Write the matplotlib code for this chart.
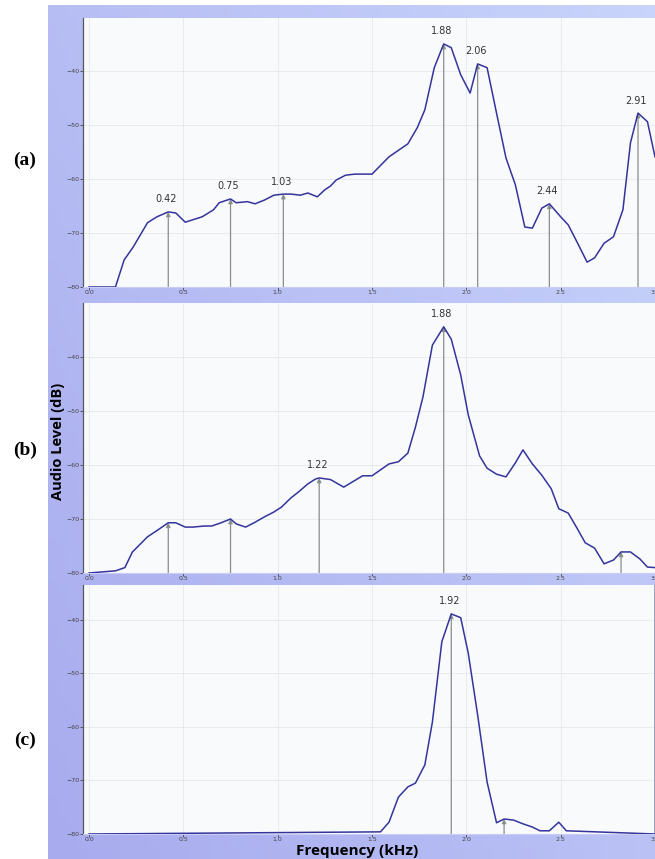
import numpy as np
import matplotlib.pyplot as plt

# Spectrum (a)
freq_a = [0.0, 0.14, 0.186, 0.234, 0.31, 0.36, 0.42, 0.46, 0.51, 0.60, 0.66, 0.69, 0.75,
          0.78, 0.84, 0.88, 0.93, 0.98, 1.03, 1.07, 1.12, 1.16, 1.21, 1.25, 1.28, 1.31,
          1.36, 1.41, 1.50, 1.59, 1.69, 1.74, 1.78, 1.83, 1.88, 1.92, 1.97, 2.02, 2.06,
          2.11, 2.16, 2.21, 2.26, 2.31, 2.35, 2.40, 2.44, 2.50, 2.54, 2.59, 2.64, 2.68,
          2.73, 2.78, 2.83, 2.87, 2.91, 2.96, 3.0]
level_a = [-80, -80, -75.0, -72.6, -68.1, -67.0, -66.1, -66.3, -68.0, -67.0, -65.7, -64.4, -63.7,
           -64.4, -64.2, -64.6, -63.9, -63.0, -62.8, -62.8, -63.0, -62.6, -63.3, -62.0, -61.3, -60.2,
           -59.3, -59.1, -59.1, -55.9, -53.5, -50.5, -47.2, -39.4, -35.0, -35.7, -40.7, -44.1, -38.7,
           -39.4, -47.8, -56.1, -61.1, -68.9, -69.1, -65.4, -64.6, -67.0, -68.5, -71.9, -75.4, -74.6,
           -71.9, -70.7, -65.7, -53.3, -47.8, -49.4, -55.9]

# Spectrum (b)
freq_b = [0.0, 0.14, 0.19, 0.23, 0.31, 0.37, 0.42, 0.46, 0.51, 0.55, 0.61, 0.65, 0.70, 0.75,
          0.78, 0.83, 0.88, 0.93, 0.98, 1.02, 1.07, 1.11, 1.16, 1.20, 1.22, 1.28, 1.35, 1.45,
          1.50, 1.59, 1.64, 1.69, 1.73, 1.77, 1.82, 1.88, 1.92, 1.97, 2.01, 2.07, 2.11, 2.16,
          2.21, 2.26, 2.30, 2.35, 2.40, 2.45, 2.49, 2.54, 2.59, 2.63, 2.68, 2.73, 2.78, 2.82,
          2.87, 2.92, 2.96, 3.0]
level_b = [-80, -79.6, -79.0, -76.1, -73.3, -71.9, -70.7, -70.7, -71.5, -71.5, -71.3, -71.3, -70.7, -70.0,
           -70.9, -71.5, -70.6, -69.6, -68.7, -67.8, -66.1, -65.0, -63.5, -62.6, -62.4, -62.7, -64.1, -62.0,
           -62.0, -59.8, -59.4, -57.8, -53.0, -47.4, -37.8, -34.4, -36.7, -43.3, -50.7, -58.3, -60.6, -61.7,
           -62.2, -59.6, -57.2, -59.8, -61.9, -64.4, -68.1, -68.9, -71.9, -74.4, -75.4, -78.3, -77.6, -76.1,
           -76.1, -77.4, -78.9, -79.0]

# Spectrum (c)
freq_c = [0.0, 1.545, 1.59, 1.64, 1.69, 1.73, 1.78, 1.82, 1.87, 1.92, 1.97, 2.01, 2.06, 2.11,
          2.16, 2.20, 2.25, 2.30, 2.35, 2.39, 2.44, 2.49, 2.53, 3.0]
level_c = [-80, -79.6, -77.8, -73.1, -71.2, -70.5, -67.1, -59.1, -44.1, -38.9, -39.6, -46.2, -57.8, -70.3,
           -77.9, -77.2, -77.4, -78.1, -78.7, -79.4, -79.4, -77.8, -79.4, -80]

# peak markers: (frequency, level, label)
peaks_a = [(0.42, -66.1, "0.42"), (0.75, -63.7, "0.75"), (1.03, -62.8, "1.03"),
           (1.88, -35.0, "1.88"), (2.06, -38.7, "2.06"), (2.44, -64.6, "2.44"),
           (2.91, -47.8, "2.91")]
peaks_b = [(0.42, -70.7, ""), (0.75, -70.0, ""), (1.22, -62.4, "1.22"),
           (1.88, -34.4, "1.88"), (2.82, -76.1, "")]
peaks_c = [(1.92, -38.9, "1.92"), (2.20, -77.2, "")]

panel_labels = ["(a)", "(b)", "(c)"]
y_ticks = [-80, -70, -60, -50, -40]
x_ticks = [0.0, 0.5, 1.0, 1.5, 2.0, 2.5, 3.0]

W, H = 655, 859
fig = plt.figure(figsize=(W / 100, H / 100), dpi=100, facecolor="white")

# lavender screen backdrop, darker bottom-left, lighter top-right
bg = fig.add_axes([48 / W, 0, 1 - 48 / W, 1 - 5 / H], zorder=-10)
gx, gy = np.meshgrid(np.linspace(0, 1, 60), np.linspace(0, 1, 80))
t = np.clip(0.55 * gx + 0.45 * gy, 0, 1)[..., None]
c0 = np.array([168, 171, 238]) / 255
c1 = np.array([200, 212, 251]) / 255
bg.imshow(c0 * (1 - t) + c1 * t, origin="lower", aspect="auto", extent=(0, 1, 0, 1))
bg.axis("off")

line_col = "#34349c"
panels = [
    (freq_a, level_a, peaks_a, 18, 287, -30.2),
    (freq_b, level_b, peaks_b, 303, 573, -30.0),
    (freq_c, level_c, peaks_c, 585, 834, -33.5),
]
label_y = [160, 450, 740]

for i, (fq, lv, pk, top, bot, ytop) in enumerate(panels):
    ax = fig.add_axes([83 / W, 1 - bot / H, 1 - 83 / W, (bot - top) / H])
    ax.set_facecolor("#f9fafb")
    ax.plot(fq, lv, color=line_col, lw=1.1, zorder=3)
    for f, v, lab in pk:
        ax.annotate("", xy=(f, v), xytext=(f, -80),
                    arrowprops=dict(arrowstyle="-|>", color="#8a8f8a", lw=0.9,
                                    mutation_scale=6, shrinkA=0, shrinkB=0), zorder=2)
        if lab:
            ax.text(f - 0.01, v + 1.4, lab, ha="center", va="bottom",
                    fontsize=7, color="#333333")
    if i == 2:
        ax.axvline(3.0, color="#8a90b8", lw=1.2)
    ax.set_xlim(-0.032, 3.0)
    ax.set_ylim(-80, ytop)
    ax.set_xticks(x_ticks)
    ax.set_xticklabels([f"{t:.1f}" for t in x_ticks])
    ax.set_yticks(y_ticks)
    ax.tick_params(labelsize=4.5, colors="#444444", length=2, width=0.6, pad=0.5)
    ax.grid(True, color="#e3e6ea", lw=0.5)
    ax.set_axisbelow(True)
    for s in ["top", "right"]:
        ax.spines[s].set_visible(False)
    ax.spines["left"].set_color("#55585e")
    ax.spines["bottom"].set_color("#c9ccf4")
    ax.spines["left"].set_linewidth(0.9)
    fig.text(25 / W, 1 - label_y[i] / H, panel_labels[i], ha="center", va="center",
             fontsize=14, fontweight="bold", family="Liberation Serif")

fig.text(58 / W, 1 - 441 / H, "Audio Level (dB)", rotation=90, ha="center", va="center",
         fontsize=10.5, fontweight="bold", family="Open Sans")
fig.text(357 / W, 1 - 851 / H, "Frequency (kHz)", ha="center", va="center",
         fontsize=11, fontweight="bold", family="Open Sans")

fig.savefig("out.png", dpi=100, facecolor="white")
